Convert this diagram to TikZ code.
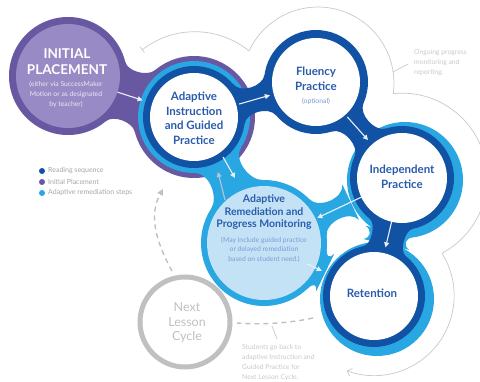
\documentclass[tikz,border=0pt]{standalone}
\usepackage{fontspec}
\setmainfont{Lato}
\usetikzlibrary{calc,arrows.meta}

\definecolor{rdblue}{RGB}{18,82,164}
\definecolor{rmblue}{RGB}{41,167,226}
\definecolor{ipurple}{RGB}{104,88,162}
\definecolor{ipfill}{RGB}{152,138,196}
\definecolor{palefill}{RGB}{196,226,246}
\definecolor{txtblue}{RGB}{42,92,172}
\definecolor{softblue}{RGB}{125,155,210}
\definecolor{notegray}{RGB}{200,200,200}
\definecolor{legendgray}{RGB}{165,165,165}
\definecolor{cyclegray}{RGB}{192,192,192}
\definecolor{arrowwhite}{RGB}{234,238,246}
\definecolor{arrowgray}{RGB}{185,195,208}
\definecolor{ipnote}{RGB}{236,232,246}

% smooth "metaball" neck between two discs:
% #1,#2 centres, #3,#4 radii (pt), #5 attach angle, #6 tangent length (pt), #7 colour
\newcommand\blobbridge[7]{%
  \coordinate (pa1) at ($(#1)!#3pt!#5:(#2)$);
  \coordinate (pa2) at ($(#1)!#3pt!-#5:(#2)$);
  \coordinate (pb1) at ($(#2)!#4pt!-#5:(#1)$);
  \coordinate (pb2) at ($(#2)!#4pt!#5:(#1)$);
  \fill[#7] (pa1) .. controls ($(pa1)!#6pt!90:(#1)$) and ($(pb1)!#6pt!-90:(#2)$) .. (pb1)
    -- (pb2) .. controls ($(pb2)!#6pt!90:(#2)$) and ($(pa2)!#6pt!-90:(#1)$) .. (pa2) -- cycle;
}

\tikzset{
  lbl/.style={text=txtblue, align=center, inner sep=0pt,
    font=\bfseries\fontsize{11.5}{14.5}\selectfont},
  smallnote/.style={align=center, inner sep=0pt, font=\fontsize{6.8}{10}\selectfont},
  sidenote/.style={text=notegray, align=left, anchor=west, inner sep=0pt,
    font=\fontsize{6.8}{10}\selectfont},
  legendtext/.style={text=legendgray, anchor=west, inner sep=0pt,
    font=\fontsize{7}{8}\selectfont},
  flow/.style={draw=arrowwhite, line width=1.1pt, -{Triangle[length=5pt,width=5pt]}},
  outline/.style={draw=notegray, line width=0.7pt},
  dashline/.style={draw=cyclegray, line width=1.4pt, dash pattern=on 5pt off 4pt},
}

\begin{document}
\begin{tikzpicture}[x=1pt,y=1pt]
\useasboundingbox (0,0) rectangle (480,381);

% circle centres
\coordinate (ip) at (68,305);
\coordinate (ai) at (194,264);
\coordinate (fp) at (316,299);
\coordinate (in) at (402,203);
\coordinate (rm) at (264,138);
\coordinate (rt) at (374,85);
\coordinate (nl) at (185,59);

% ongoing monitoring outline
\draw[outline, {Bar[width=7pt]}-{Straight Barb[length=4pt,width=8pt]}]
  (142,331) arc[start angle=128, end angle=51, radius=86pt]
            arc[start angle=155, end angle=-8, radius=76pt]
            arc[start angle=96, end angle=-62, radius=85pt]
            arc[start angle=32, end angle=-110, radius=80pt];
\coordinate (lead-a) at (393,309);
\coordinate (lead-b) at (408,317);
\draw[outline] (lead-a) -- (lead-b);

% purple placement layer
\blobbridge{ip}{ai}{59}{61}{32}{10}{ipurple}
\fill[ipurple] (ip) circle[radius=59pt];
\fill[ipurple] (ai) circle[radius=61pt];

% light blue remediation layer
\blobbridge{ai}{rm}{56}{63}{28}{14}{rmblue}
\blobbridge{in}{rm}{60}{63}{19}{14}{rmblue}
\blobbridge{rm}{rt}{63}{58}{21}{8}{rmblue}
\blobbridge{in}{rt}{60}{58}{24}{8}{rmblue}
\fill[rmblue] (ai) circle[radius=56pt];
\fill[rmblue] ($(in)+(3,-2)$) circle[radius=58pt];
\fill[rmblue] ($(rt)+(3,-3)$) circle[radius=57pt];
\fill[rmblue] (rm) circle[radius=63pt];

% dark blue reading sequence layer
\blobbridge{ai}{fp}{51}{52}{24}{12}{rdblue}
\blobbridge{fp}{in}{52}{52}{24}{12}{rdblue}
\blobbridge{in}{rt}{52}{51}{25}{8}{rdblue}
\fill[rdblue] (ai) circle[radius=51pt];
\fill[rdblue] (fp) circle[radius=52pt];
\fill[rdblue] (in) circle[radius=52pt];
\fill[rdblue] (rt) circle[radius=51pt];

% interiors
\fill[ipfill] (ip) circle[radius=52pt];
\fill[white] (ai) circle[radius=44pt];
\fill[white] (fp) circle[radius=44pt];
\fill[white] (in) circle[radius=45pt];
\fill[white] (rt) circle[radius=44pt];
\fill[palefill] (rm) circle[radius=57pt];

% next lesson cycle
\draw[cyclegray, line width=5pt] (nl) circle[radius=45pt];
\coordinate (nl-top) at (172,110);
\coordinate (ai-low) at (163,192);
\draw[dashline, -{Triangle[length=6pt,width=6pt]}] (nl-top) .. controls (150,150) and (152,172) .. (ai-low);
\coordinate (rt-left) at (313,63);
\coordinate (nl-right) at (237,58);
\draw[dashline] (rt-left) .. controls (290,58) and (262,56) .. (nl-right);
\coordinate (lead-c) at (272,55);
\coordinate (lead-d) at (277,42);
\draw[outline] (lead-c) -- (lead-d);

% flow arrows
\draw[flow, shorten <=52pt, shorten >=54pt] (ip) -- (ai);
\draw[flow, shorten <=47pt, shorten >=48pt] (ai) -- (fp);
\draw[flow, shorten <=47pt, shorten >=51pt] (fp) -- (in);
\draw[flow, shorten <=44pt, shorten >=59pt] (in) -- (rm);
\draw[flow, shorten <=44pt, shorten >=50pt] (in) -- (rt);
\draw[flow, shorten <=48pt, shorten >=58pt] (rm) -- (rt);
\coordinate (ai-out) at (223,224);
\coordinate (rm-in) at (235,203);
\coordinate (rm-out) at (225,181);
\coordinate (ai-in) at (218,209);
\draw[flow] (ai-out) -- (rm-in);
\draw[flow, draw=arrowgray] (rm-out) -- (ai-in);

% labels
\node[text=white, align=center, inner sep=0pt, font=\bfseries\fontsize{13.5}{15.5}\selectfont]
  (ip-title) at (67,319.5) {INITIAL\\PLACEMENT};
\node[smallnote, text=ipnote] (ip-note) at (66,287)
  {(either via SuccessMaker\\Motion or as designated\\by teacher)};
\node[lbl] (ai-text) at (194,262.5) {Adaptive\\Instruction\\and Guided\\Practice};
\node[lbl] (fp-text) at (316,302) {Fluency\\Practice};
\node[smallnote, text=softblue] (fp-note) at (316,280) {(optional)};
\node[lbl] (in-text) at (402,204) {Independent\\Practice};
\node[lbl, font=\bfseries\fontsize{10.5}{12.5}\selectfont] (rm-text) at (264,168.5)
  {Adaptive\\Remediation and\\Progress Monitoring};
\node[smallnote, text=softblue, font=\fontsize{6.8}{9.5}\selectfont] (rm-note) at (264,131.5)
  {(May include guided practice\\or delayed remediation\\based on student need.)};
\node[lbl] (rt-text) at (372,88) {Retention};
\node[align=center, inner sep=0pt, text=cyclegray, font=\fontsize{12.5}{14.5}\selectfont]
  (nl-text) at (187,58) {Next\\Lesson\\Cycle};
\node[sidenote] (ongoing) at (414,318) {Ongoing progress\\monitoring and\\reporting.};
\node[sidenote] (goback) at (242,18.5)
  {Students go back to\\adaptive Instruction and\\Guided Practice for\\Next Lesson Cycle.};

% legend
\fill[rdblue] (42,210) circle[radius=3pt];
\fill[ipurple] (42,199) circle[radius=3pt];
\fill[rmblue] (42,188) circle[radius=3pt];
\node[legendtext] (lg1) at (48,210) {Reading sequence};
\node[legendtext] (lg2) at (48,199) {Initial Placement};
\node[legendtext] (lg3) at (48,188) {Adaptive remediation steps};
\end{tikzpicture}
\end{document}
